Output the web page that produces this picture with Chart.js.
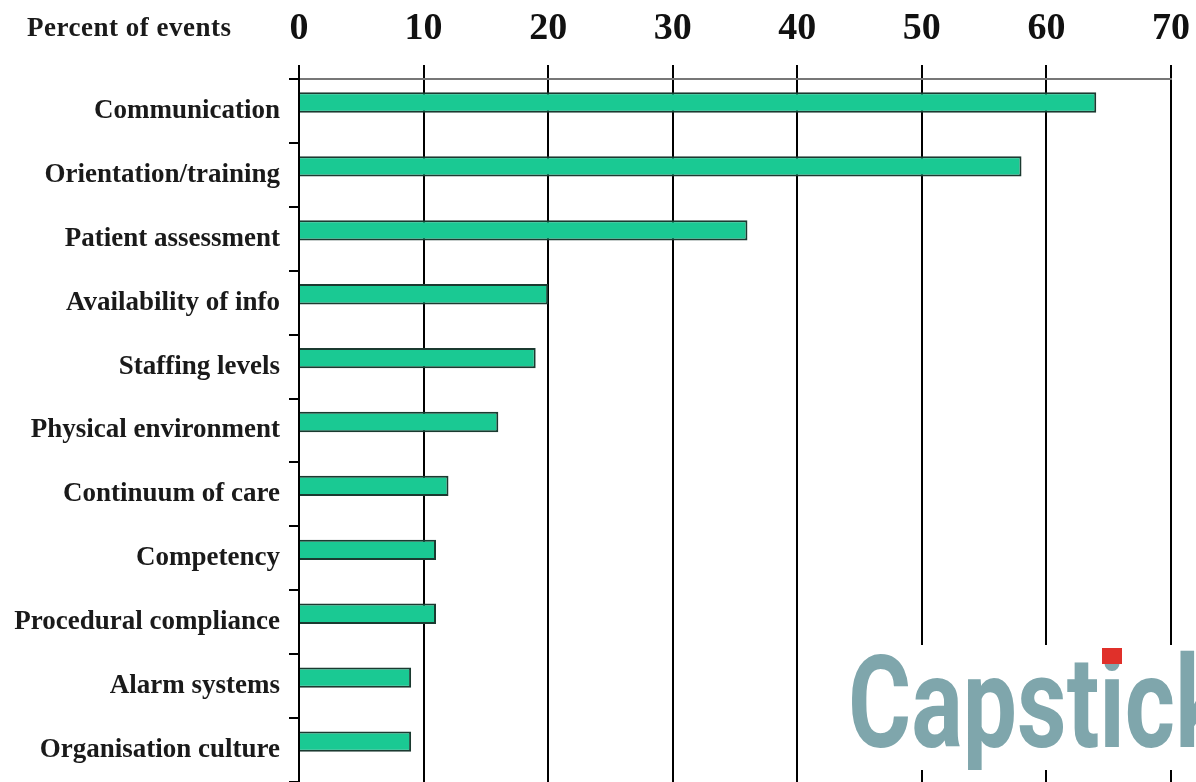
<!DOCTYPE html>
<html>
<head>
<meta charset="utf-8">
<script src="https://cdn.jsdelivr.net/npm/chart.js@4.4.0/dist/chart.umd.min.js"></script>
<style>
    html, body { margin: 0; padding: 0; background: #fff; overflow: hidden; }
    #wrap { position: relative; width: 1196px; height: 782px; }
    #axis-title {
        position: absolute; left: 27px; top: 12px;
        font: bold 27px "Liberation Serif", serif;
        letter-spacing: 0.5px; color: #1a1a1a; white-space: nowrap;
    }
    #logo {
        position: absolute; left: 838px; top: 645px; width: 358px; height: 125px;
        background: #fff; overflow: hidden;
    }
    #logo .word {
        position: absolute; left: 10px; top: -6px;
        font: bold 128px Roboto, sans-serif; line-height: 1;
        color: #7fa6ac; white-space: nowrap;
        transform: scaleX(0.754); transform-origin: left top;
    }
    #logo .dot {
        position: absolute; left: 264px; top: 3px; width: 20px; height: 16px;
        background: #e0302a;
    }
</style>
</head>
<body>
<div id="wrap">
    <canvas id="chart"></canvas>
    <div id="axis-title">Percent of events</div>
    <div id="logo"><span class="word">Capstick</span><span class="dot"></span></div>
</div>
<script>
// البيانات كما قُرئت من الصورة
const categories = [
    'Communication',
    'Orientation/training',
    'Patient assessment',
    'Availability of info',
    'Staffing levels',
    'Physical environment',
    'Continuum of care',
    'Competency',
    'Procedural compliance',
    'Alarm systems',
    'Organisation culture'
];
const percentOfEvents = [64, 58, 36, 20, 19, 16, 12, 11, 11, 9, 9];
// سلسلة فارغة فقط لإزاحة الأعمدة للأعلى داخل كل فئة كما في الأصل
const spacerValues = [null, null, null, null, null, null, null, null, null, null, null];

const xMin = 0;
const xMax = 70;
const xStep = 10;

const ctx = document.getElementById('chart').getContext('2d');
new Chart(ctx, {
    type: 'bar',
    data: {
        labels: categories,
        datasets: [{
            label: 'Percent of events',
            data: percentOfEvents,
            backgroundColor: '#1ac993',
            borderColor: '#1b3a30',
            borderWidth: 2,
            categoryPercentage: 0.53,
            barPercentage: 1.2
        }, {
            label: 'spacer',
            data: spacerValues,
            categoryPercentage: 0.53,
            barPercentage: 1.2
        }]
    },
    options: {
        indexAxis: 'y',
        responsive: true,
        maintainAspectRatio: false,
        animation: false,
        layout: { padding: { left: 0, right: 25, top: 0, bottom: 0 } },
        plugins: {
            legend: { display: false },
            tooltip: { enabled: false }
        },
        scales: {
            x: {
                position: 'top',
                min: xMin,
                max: xMax,
                afterFit: s => { s.height = 79; s.paddingLeft = 0; s.paddingRight = 0; },
                ticks: {
                    stepSize: xStep,
                    color: '#111',
                    padding: 13,
                    font: { family: '"Liberation Serif", serif', size: 38, weight: 'bold' }
                },
                grid: { color: '#000', lineWidth: 2, tickLength: 14, drawTicks: true },
                border: { display: true, color: '#777', width: 2 }
            },
            y: {
                afterFit: s => { s.width = 299; s.paddingTop = 0; s.paddingBottom = 0; },
                ticks: {
                    color: '#1a1a1a',
                    padding: 9,
                    font: { family: '"Liberation Serif", serif', size: 27, weight: 'bold' }
                },
                grid: { drawOnChartArea: false, color: '#000', lineWidth: 2, tickLength: 10, offset: true },
                border: { display: true, color: '#000', width: 2 }
            }
        }
    }
});
</script>
</body>
</html>
